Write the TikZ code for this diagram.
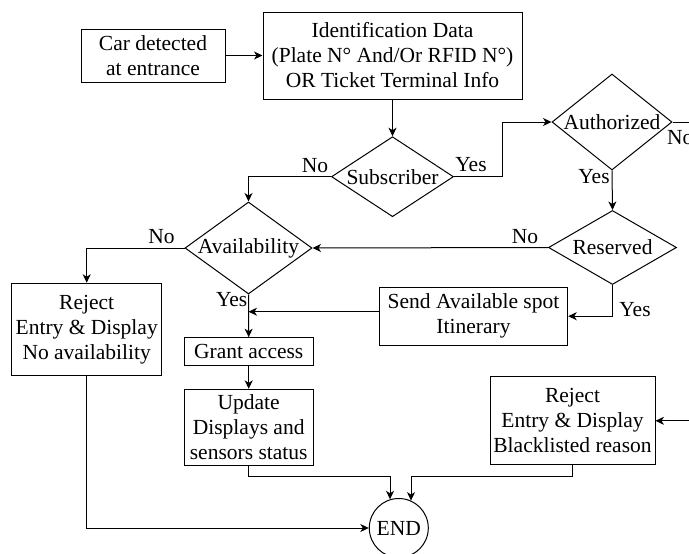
\documentclass[tikz,border=0pt]{standalone}
\usepackage{fontspec}
\setmainfont{Liberation Serif}
\usetikzlibrary{arrows.meta,shapes.geometric}
\tikzset{
  base/.style={font=\fontsize{21.5}{25}\selectfont},
  box/.style={base, draw, align=center, inner sep=0pt, line width=1pt},
  dia/.style={draw, shape=diamond, inner sep=0pt, line width=1pt},
  dtext/.style={base, inner sep=0pt},
  lbl/.style={base, inner sep=0pt},
  link/.style={line width=1pt},
  arr/.style={link, -{Stealth[length=8.5pt,width=8pt,inset=2.5pt]}},
}
\begin{document}
\begin{tikzpicture}[x=1pt,y=-1pt]
\useasboundingbox (0,0) rectangle (689,554);

% process boxes
\node[box, minimum width=144pt, minimum height=53pt] (car) at (153,55.5) {Car detected\\at entrance};
\node[box, minimum width=259pt, minimum height=87pt] (ident) at (392.5,55.5) {Identification Data\\(Plate N° And/Or RFID N°)\\OR Ticket Terminal Info};
\node[box, minimum width=150pt, minimum height=92.5pt] (rej1) at (86.7,329.5) {Reject\\Entry \& Display\\No availability};
\node[box, minimum width=129pt, minimum height=28pt] (grant) at (248.7,351.7) {Grant access};
\node[box, minimum width=129pt, minimum height=75.7pt] (upd) at (248.7,427.2) {Update\\Displays and\\sensors status};
\node[box, minimum width=188.4pt, minimum height=57.7pt] (send) at (473.5,316.2) {Send Available spot\\Itinerary};
\node[box, minimum width=165pt, minimum height=88.3pt] (rej2) at (572.5,420.8) {Reject\\Entry \& Display\\Blacklisted reason};
\node[box, shape=circle, minimum size=59pt] (end) at (398.8,528) {END};

% decisions
\node[dia, minimum width=122pt, minimum height=80pt, label={[dtext]center:Subscriber}] (sub) at (392.5,176.7) {};
\node[dia, minimum width=120pt, minimum height=96pt, label={[dtext]center:Authorized}] (auth) at (612,122) {};
\node[dia, minimum width=128pt, minimum height=74pt, label={[dtext]center:Reserved}] (res) at (612.5,247.5) {};
\node[dia, minimum width=127pt, minimum height=92pt, label={[dtext]center:Availability}] (avail) at (248.5,248) {};

% bend points and loose ends
\coordinate (j1) at (502.7,122);
\coordinate (authout) at (700,122);
\coordinate (blackin) at (700,420.8);

% connectors
\draw[arr] (car.east) -- (ident.west);
\draw[arr] (ident.south) -- (sub.north);
\draw[arr] (sub.east) -| (j1) -- (auth.west);
\draw[link] (auth.east) -- (authout);
\draw[arr] (auth.south) -- (res.north);
\draw[arr] (res.west) -- (avail.east);
\draw[arr] (sub.west) -| (avail.north);
\draw[arr] (avail.west) -| (rej1.north);
\draw[arr] (avail.south) -- (grant.north);
\draw[arr] ([yshift=4.5pt]send.west) -- ([yshift=4.5pt]send.west -| avail.south);
\draw[arr] (res.south) |- (send.east);
\draw[arr] (grant.south) -- (upd.north);
\draw[arr] (upd.south) -- ++(0,10.7) -| (end.107);
\draw[arr] (rej2.south) -- ++(0,10.7) -| (end.66);
\draw[arr] (blackin) -- (rej2.east);
\draw[arr] (rej1.south) |- (end.west);

% branch labels
\node[lbl] (subno) at (315,165.7) {No};
\node[lbl] (subyes) at (471,165) {Yes};
\node[lbl, anchor=west] (authno) at (667,138) {No};
\node[lbl] (authyes) at (594,177) {Yes};
\node[lbl] (resno) at (525,236.7) {No};
\node[lbl] (resyes) at (635,310) {Yes};
\node[lbl] (availno) at (161.5,236.7) {No};
\node[lbl] (availyes) at (231.7,300) {Yes};
\end{tikzpicture}
\end{document}
